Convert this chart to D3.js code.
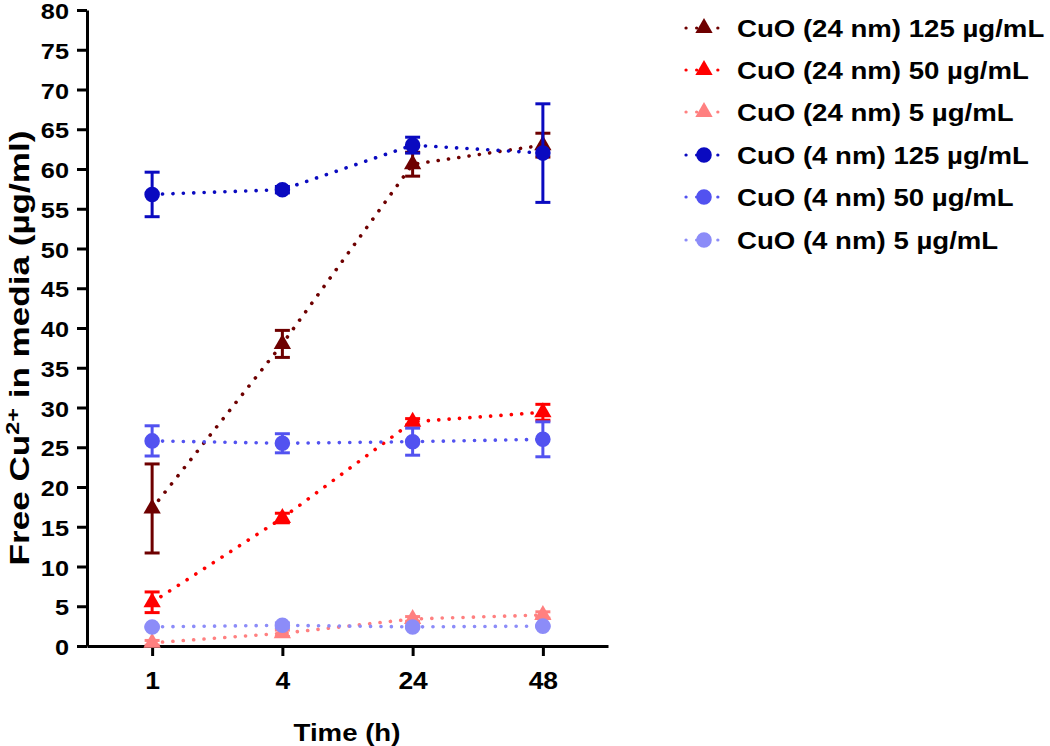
<!DOCTYPE html>
<html>
<head>
<meta charset="utf-8">
<script src="https://cdn.jsdelivr.net/npm/d3@7/dist/d3.min.js"></script>
<style>
  html, body { margin: 0; padding: 0; background: #fff; }
  svg { display: block; }
  text { font-family: Arial, "Liberation Sans", sans-serif; font-weight: bold; fill: #000; }
</style>
</head>
<body>
<svg id="chart" width="1050" height="746"></svg>
<script>
// ---- data ----
const categories = ["1", "4", "24", "48"];
const yTicks = [0, 5, 10, 15, 20, 25, 30, 35, 40, 45, 50, 55, 60, 65, 70, 75, 80];
const seriesNames = [
  "CuO (24 nm) 125 µg/mL",
  "CuO (24 nm) 50 µg/mL",
  "CuO (24 nm) 5 µg/mL",
  "CuO (4 nm) 125 µg/mL",
  "CuO (4 nm) 50 µg/mL",
  "CuO (4 nm) 5 µg/mL"
];
const seriesColors = ["#6e0000", "#ff0000", "#ff8080", "#0a0ac0", "#5252f0", "#8c8cf8"];
const seriesShapes = ["triangle", "triangle", "triangle", "circle", "circle", "circle"];
const cuo24_125 = [17.3, 38.0, 60.6, 63.0];
const cuo24_125_err = [5.6, 1.7, 1.5, 1.5];
const cuo24_50 = [5.5, 16.1, 28.2, 29.4];
const cuo24_50_err = [1.3, 0.6, 0.4, 1.0];
const cuo24_5 = [0.4, 1.6, 3.4, 3.9];
const cuo24_5_err = [0.3, 0.4, 0.3, 0.4];
const cuo4_125 = [56.8, 57.4, 63.0, 62.0];
const cuo4_125_err = [2.8, 0.4, 1.0, 6.2];
const cuo4_50 = [25.8, 25.5, 25.7, 26.0];
const cuo4_50_err = [1.9, 1.2, 1.7, 2.2];
const cuo4_5 = [2.4, 2.6, 2.4, 2.5];
const cuo4_5_err = [0.1, 0.3, 0.1, 0.1];
const seriesValues = [cuo24_125, cuo24_50, cuo24_5, cuo4_125, cuo4_50, cuo4_5];
const seriesErrors = [cuo24_125_err, cuo24_50_err, cuo24_5_err, cuo4_125_err, cuo4_50_err, cuo4_5_err];
const xTitle = "Time (h)";

// ---- layout ----
const svg = d3.select("#chart");
const SX = 1.15; // horizontal glyph stretch seen in the reference
const x = d3.scalePoint().domain(categories).range([87, 608]).padding(0.5);
const y = d3.scaleLinear().domain([0, 80]).range([646, 10]);

function sText(g, tx, ty, str, size, anchor) {
  return g.append("text")
    .attr("transform", `translate(${tx},${ty}) scale(${SX},1)`)
    .attr("text-anchor", anchor || "start")
    .style("font-size", size + "px")
    .text(str);
}

// axes
const yAxis = svg.append("g").attr("transform", "translate(87,0)")
  .call(d3.axisLeft(y).tickValues(yTicks).tickSize(10).tickSizeOuter(0).tickFormat(d3.format("d")));
const xAxis = svg.append("g").attr("transform", "translate(0,646)")
  .call(d3.axisBottom(x).tickSize(10).tickSizeOuter(0));
[yAxis, xAxis].forEach(a => {
  a.select(".domain").attr("stroke", "#000").attr("stroke-width", 3);
  a.selectAll(".tick line").attr("stroke", "#000").attr("stroke-width", 3);
  a.selectAll(".tick text").remove();
});
yAxis.selectAll(".tick").each(function(d) {
  sText(d3.select(this), -18, 8.5, String(d), 22, "end");
});
xAxis.selectAll(".tick").each(function(d) {
  sText(d3.select(this), 0, 43, d, 23, "middle");
});

// axis titles
sText(svg, 347, 741, xTitle, 24, "middle");
const yt = svg.append("text")
  .attr("transform", `translate(29,348) rotate(-90) scale(1.3,1)`)
  .attr("text-anchor", "middle")
  .style("font-size", "27px");
yt.append("tspan").text("Free Cu");
yt.append("tspan").attr("dy", -10).style("font-size", "18px").text("2+");
yt.append("tspan").attr("dy", 10).text(" in media (µg/ml)");

// ---- series ----
const tri = d3.symbol().type(d3.symbolTriangle).size(130);
const circ = d3.symbol().type(d3.symbolCircle).size(190);

const line = d3.line().x((d, i) => x(categories[i])).y(d => y(d));

seriesValues.forEach((vals, s) => {
  const col = seriesColors[s];
  const g = svg.append("g");
  g.append("path").datum(vals).attr("d", line)
    .attr("fill", "none").attr("stroke", col).attr("stroke-width", 3.6)
    .attr("stroke-linecap", "round").attr("stroke-dasharray", "0.1 10.3");
  vals.forEach((v, i) => {
    const e = seriesErrors[s][i];
    const cx = x(categories[i]);
    g.append("line").attr("x1", cx).attr("x2", cx).attr("y1", y(v - e)).attr("y2", y(v + e))
      .attr("stroke", col).attr("stroke-width", 3);
    [v - e, v + e].forEach(ev => {
      g.append("line").attr("x1", cx - 7.5).attr("x2", cx + 7.5).attr("y1", y(ev)).attr("y2", y(ev))
        .attr("stroke", col).attr("stroke-width", 3);
    });
  });
  g.selectAll("path.pt").data(vals).join("path").attr("class", "pt")
    .attr("transform", (d, i) => `translate(${x(categories[i])},${y(d)})`)
    .attr("d", seriesShapes[s] === "triangle" ? tri() : circ())
    .attr("fill", col);
});

// ---- legend ----
const legY = [28, 70, 112, 155, 197, 240];
seriesNames.forEach((name, s) => {
  const g = svg.append("g").attr("transform", `translate(0,${legY[s]})`);
  g.append("line").attr("x1", 686).attr("x2", 720).attr("y1", 0).attr("y2", 0)
    .attr("stroke", seriesColors[s]).attr("stroke-width", 3.2)
    .attr("stroke-linecap", "round").attr("stroke-dasharray", "0.1 10.5");
  g.append("path").attr("transform", "translate(704,0)")
    .attr("d", seriesShapes[s] === "triangle" ? tri() : circ())
    .attr("fill", seriesColors[s]);
  sText(g, 737, 9, name, 24, "start");
});
</script>
</body>
</html>
